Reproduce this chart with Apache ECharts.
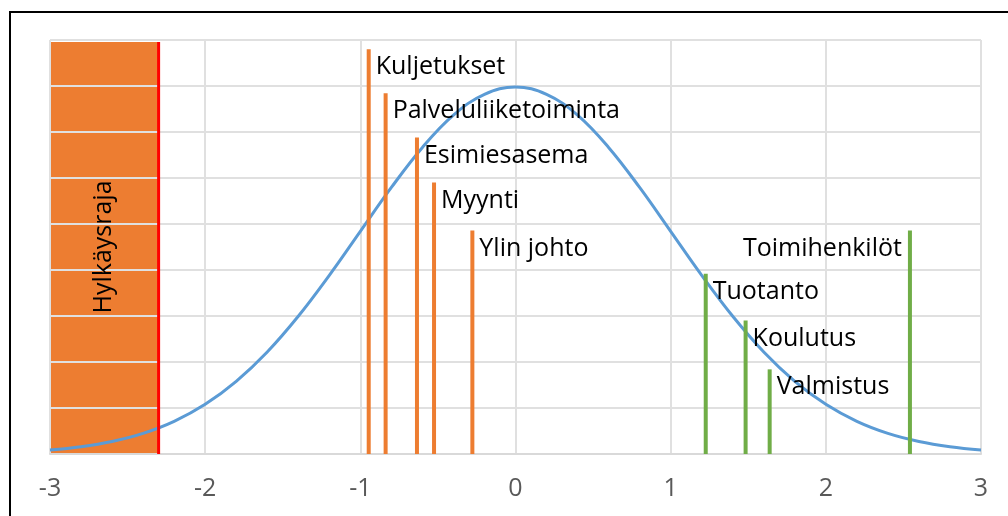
<!DOCTYPE html>
<html>
<head>
<meta charset="utf-8">
<script src="https://cdn.jsdelivr.net/npm/echarts@6/dist/echarts.min.js"></script>
<style>
  html, body { margin: 0; padding: 0; background: #fff; }
  #chart { width: 1008px; height: 516px; }
</style>
</head>
<body>
<div id="chart"></div>
<script>
// Normal curve, read at steps of 0.2 along the z axis
const curveX = [-3, -2.8, -2.6, -2.4, -2.2, -2, -1.8, -1.6, -1.4, -1.2, -1, -0.8, -0.6, -0.4, -0.2, 0,
                0.2, 0.4, 0.6, 0.8, 1, 1.2, 1.4, 1.6, 1.8, 2, 2.2, 2.4, 2.6, 2.8, 3];
const curveY = [0.0044, 0.0079, 0.0136, 0.0224, 0.0355, 0.0540, 0.0790, 0.1109, 0.1497, 0.1942, 0.2420,
                0.2897, 0.3332, 0.3683, 0.3910, 0.3989,
                0.3910, 0.3683, 0.3332, 0.2897, 0.2420, 0.1942, 0.1497, 0.1109, 0.0790, 0.0540,
                0.0355, 0.0224, 0.0136, 0.0079, 0.0044];

// Rejection limit and the shaded rejection zone
const rejectLimit = -2.3;
const rejectLabel = 'Hylkäysraja';

// Groups below the mean (orange)
const lowNames = ['Kuljetukset', 'Palveluliiketoiminta', 'Esimiesasema', 'Myynti', 'Ylin johto'];
const lowX = [-0.946, -0.837, -0.635, -0.525, -0.278];
const lowH = [0.440, 0.392, 0.344, 0.295, 0.243];

// Groups above the mean (green)
const highNames = ['Tuotanto', 'Koulutus', 'Valmistus', 'Toimihenkilöt'];
const highX = [1.226, 1.483, 1.638, 2.542];
const highH = [0.196, 0.145, 0.092, 0.243];

const xMin = -3, xMax = 3, xStep = 1;
const yMin = 0, yMax = 0.45, yStep = 0.05;

const FONT_FAMILY = '"Open Sans", sans-serif';
const LABEL_FONT = '25px ' + FONT_FAMILY;

const measureCtx = document.createElement('canvas').getContext('2d');
function textWidth(t) {
  measureCtx.font = LABEL_FONT;
  return measureCtx.measureText(t).width;
}

// Thin vertical bar with its name beside the top; the name flips to the
// left side when it would run past the plot's right edge.
function makeBarRenderer(color) {
  return function (params, api) {
    const x = api.value(0), h = api.value(1);
    const name = api.value(2);
    const base = api.coord([x, 0]);
    const top = api.coord([x, h]);
    const cs = params.coordSys;
    const w = textWidth(name);
    const toLeft = top[0] + 7 + w > cs.x + cs.width;
    return {
      type: 'group',
      children: [
        {
          type: 'rect',
          shape: { x: base[0] - 2, y: top[1], width: 4, height: base[1] - top[1] },
          style: { fill: color }
        },
        {
          type: 'text',
          style: {
            text: name,
            x: toLeft ? top[0] - 8 : top[0] + 7,
            y: top[1] + 18,
            font: LABEL_FONT,
            fill: '#000',
            align: toLeft ? 'right' : 'left',
            verticalAlign: 'middle'
          }
        }
      ]
    };
  };
}

const chart = echarts.init(document.getElementById('chart'), null, { renderer: 'canvas' });

const option = {
  animation: false,
  backgroundColor: '#fff',
  textStyle: { fontFamily: FONT_FAMILY },
  graphic: [{
    type: 'rect',
    shape: { x: 10, y: 12, width: 1200, height: 700 },
    style: { fill: 'none', stroke: '#000', lineWidth: 2 },
    silent: true
  }],
  grid: { left: 50, right: 27, top: 40, bottom: 62 },
  xAxis: {
    type: 'value',
    min: xMin, max: xMax, interval: xStep,
    z: 1,
    axisLine: { show: true, onZero: false, lineStyle: { color: '#d9d9d9', width: 2 } },
    axisTick: { show: false },
    axisLabel: { color: '#595959', fontSize: 25, fontFamily: FONT_FAMILY, margin: 22 },
    splitLine: { show: true, lineStyle: { color: '#e0e0e0', width: 2 } }
  },
  yAxis: {
    type: 'value',
    min: yMin, max: yMax, interval: yStep,
    z: 1,
    axisLine: { show: false },
    axisTick: { show: false },
    axisLabel: { show: false },
    splitLine: { show: true, lineStyle: { color: '#e0e0e0', width: 2 } }
  },
  series: [
    {
      // rejection zone, drawn beneath the grid lines
      type: 'custom',
      z: 0,
      silent: true,
      data: [[xMin, yMax, rejectLimit]],
      renderItem: function (params, api) {
        const p0 = api.coord([api.value(0), api.value(1)]);
        const p1 = api.coord([api.value(2), 0]);
        return {
          type: 'rect',
          shape: { x: p0[0], y: p0[1] + 2, width: p1[0] - p0[0], height: p1[1] - p0[1] - 2 },
          style: { fill: '#ED7D31' }
        };
      }
    },
    {
      // rejection limit line and its caption
      type: 'custom',
      z: 3,
      silent: true,
      data: [[rejectLimit, yMax, xMin]],
      renderItem: function (params, api) {
        const lim = api.value(0);
        const top = api.coord([lim, api.value(1)]);
        const base = api.coord([lim, 0]);
        const mid = api.coord([(api.value(2) + lim) / 2, api.value(1) / 2]);
        return {
          type: 'group',
          children: [
            {
              type: 'rect',
              shape: { x: top[0] - 1.5, y: top[1] + 2, width: 3, height: base[1] - top[1] - 2 },
              style: { fill: '#FF0000' }
            },
            {
              type: 'text',
              x: mid[0], y: mid[1],
              rotation: Math.PI / 2,
              style: {
                text: rejectLabel,
                x: 0, y: 0,
                font: LABEL_FONT,
                fill: '#000',
                align: 'center',
                verticalAlign: 'middle'
              }
            }
          ]
        };
      }
    },
    {
      type: 'line',
      z: 2,
      smooth: 0.4,
      showSymbol: false,
      symbol: 'none',
      silent: true,
      lineStyle: { color: '#5B9BD5', width: 3 },
      data: curveX.map((x, i) => [x, curveY[i]])
    },
    {
      type: 'custom',
      z: 3,
      silent: true,
      renderItem: makeBarRenderer('#ED7D31'),
      data: lowX.map((x, i) => [x, lowH[i], lowNames[i]]),
      dimensions: ['x', 'h', { name: 'name', type: 'ordinal' }]
    },
    {
      type: 'custom',
      z: 3,
      silent: true,
      renderItem: makeBarRenderer('#70AD47'),
      data: highX.map((x, i) => [x, highH[i], highNames[i]]),
      dimensions: ['x', 'h', { name: 'name', type: 'ordinal' }]
    }
  ]
};

chart.setOption(option);
</script>
</body>
</html>
